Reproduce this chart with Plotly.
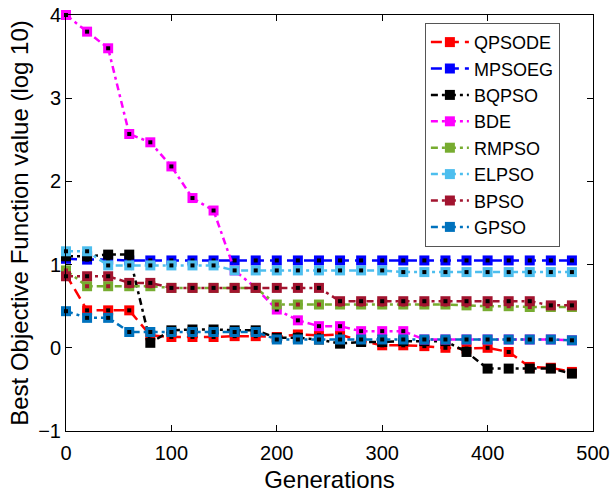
import plotly.graph_objects as go

generations = list(range(0, 500, 20))

qpsode = [0.88, 0.45, 0.45, 0.45, 0.15, 0.13, 0.13, 0.13, 0.14, 0.14, 0.13, 0.16, 0.15,
          0.16, 0.08, 0.03, 0.03, 0.02, 0.00, -0.01, 0.00, -0.05, -0.23, -0.24, -0.29]
mpsoeg = [1.07, 1.06, 1.06, 1.05, 1.05, 1.05, 1.05, 1.05, 1.05, 1.05, 1.05, 1.05, 1.05,
          1.05, 1.05, 1.05, 1.05, 1.05, 1.05, 1.05, 1.05, 1.05, 1.05, 1.05, 1.05]
bqpso = [1.10, 1.10, 1.12, 1.12, 0.06, 0.21, 0.22, 0.22, 0.21, 0.21, 0.12, 0.12, 0.10,
         0.05, 0.07, 0.07, 0.08, 0.08, 0.08, -0.05, -0.25, -0.25, -0.25, -0.25, -0.31]
bde = [4.00, 3.80, 3.60, 2.57, 2.47, 2.18, 1.80, 1.65, 0.93, 0.72, 0.46, 0.33, 0.26,
       0.26, 0.20, 0.20, 0.20, 0.10, 0.10, 0.10, 0.10, 0.10, 0.10, 0.10, 0.09]
rmpso = [0.93, 0.74, 0.74, 0.74, 0.74, 0.72, 0.72, 0.72, 0.72, 0.72, 0.52, 0.52, 0.52,
         0.52, 0.52, 0.52, 0.52, 0.52, 0.52, 0.51, 0.50, 0.50, 0.49, 0.49, 0.49]
elpso = [1.16, 1.16, 0.99, 0.99, 0.99, 0.99, 0.99, 0.99, 0.93, 0.93, 0.93, 0.93, 0.93,
         0.93, 0.93, 0.93, 0.91, 0.91, 0.91, 0.91, 0.91, 0.91, 0.91, 0.91, 0.91]
bpso = [0.86, 0.86, 0.86, 0.78, 0.78, 0.72, 0.72, 0.72, 0.72, 0.72, 0.72, 0.72, 0.72,
        0.56, 0.56, 0.56, 0.56, 0.56, 0.56, 0.56, 0.56, 0.56, 0.56, 0.51, 0.51]
gpso = [0.44, 0.36, 0.36, 0.19, 0.19, 0.19, 0.19, 0.19, 0.19, 0.19, 0.10, 0.10, 0.10,
        0.10, 0.10, 0.10, 0.10, 0.10, 0.10, 0.10, 0.10, 0.10, 0.10, 0.10, 0.09]

names = ["QPSODE", "MPSOEG", "BQPSO", "BDE", "RMPSO", "ELPSO", "BPSO", "GPSO"]
series = [qpsode, mpsoeg, bqpso, bde, rmpso, elpso, bpso, gpso]
colors = ["#FF0000", "#0000FF", "#000000", "#FF00FF", "#77AC30", "#4DBEEE", "#A2142F", "#0072BD"]
center_colors = ["#000000", "#000000", "#000000", "#000000", "#A2142F", "#000000", "#000000", "#000000"]
DASH = "11px,6px"
DASHDOT = "7px,4px,3px,4px"
dashes = [DASH, DASH, DASHDOT, DASHDOT, DASHDOT, DASHDOT, DASHDOT, DASHDOT]

fig = go.Figure()
for name, ys, c, cc, d in zip(names, series, colors, center_colors, dashes):
    fig.add_trace(go.Scatter(
        x=generations, y=ys, name=name, mode="lines+markers", cliponaxis=False,
        line=dict(color=c, width=2.5, dash=d),
        marker=dict(symbol="square", size=10, color=c, line=dict(width=0)),
    ))
    fig.add_trace(go.Scatter(
        x=generations, y=ys, mode="markers", showlegend=False, hoverinfo="skip",
        cliponaxis=False,
        marker=dict(symbol="square", size=4, color=cc, line=dict(width=0)),
    ))

font = "Liberation Sans, Arial, sans-serif"
fig.update_layout(
    width=611, height=493,
    margin=dict(l=66, r=18, t=15, b=62),
    paper_bgcolor="white", plot_bgcolor="white",
    font=dict(family=font, size=20, color="#000000"),
    showlegend=True,
    legend=dict(
        x=0.681, y=0.981, xanchor="left", yanchor="top",
        bordercolor="#555555", borderwidth=1, bgcolor="white",
        font=dict(family=font, size=18, color="#000000"),
        tracegroupgap=0, itemwidth=38,
    ),
    xaxis=dict(
        range=[0, 500], dtick=100, tick0=0, automargin=False,
        showgrid=False, zeroline=False, ticklabeloverflow="allow",
        showline=True, linecolor="black", linewidth=1, mirror="ticks",
        ticks="inside", ticklen=6, tickcolor="black",
        tickfont=dict(family=font, size=20), ticklabelstandoff=4,
        title=dict(text="Generations", font=dict(family=font, size=24), standoff=8),
    ),
    yaxis=dict(
        range=[-1, 4], dtick=1, tick0=0, automargin=False,
        showgrid=False, zeroline=False, ticklabeloverflow="allow",
        showline=True, linecolor="black", linewidth=1, mirror="ticks",
        ticks="inside", ticklen=6, tickcolor="black",
        tickfont=dict(family=font, size=20),
        title=dict(text="Best Objective Function value (log 10)", font=dict(family=font, size=24), standoff=2),
    ),
)

# remove the default 8px page margin so the 611x493 figure fills the window exactly
fig.write_html("out.html", config={"displayModeBar": False},
               post_script="document.body.style.margin='0px';")
